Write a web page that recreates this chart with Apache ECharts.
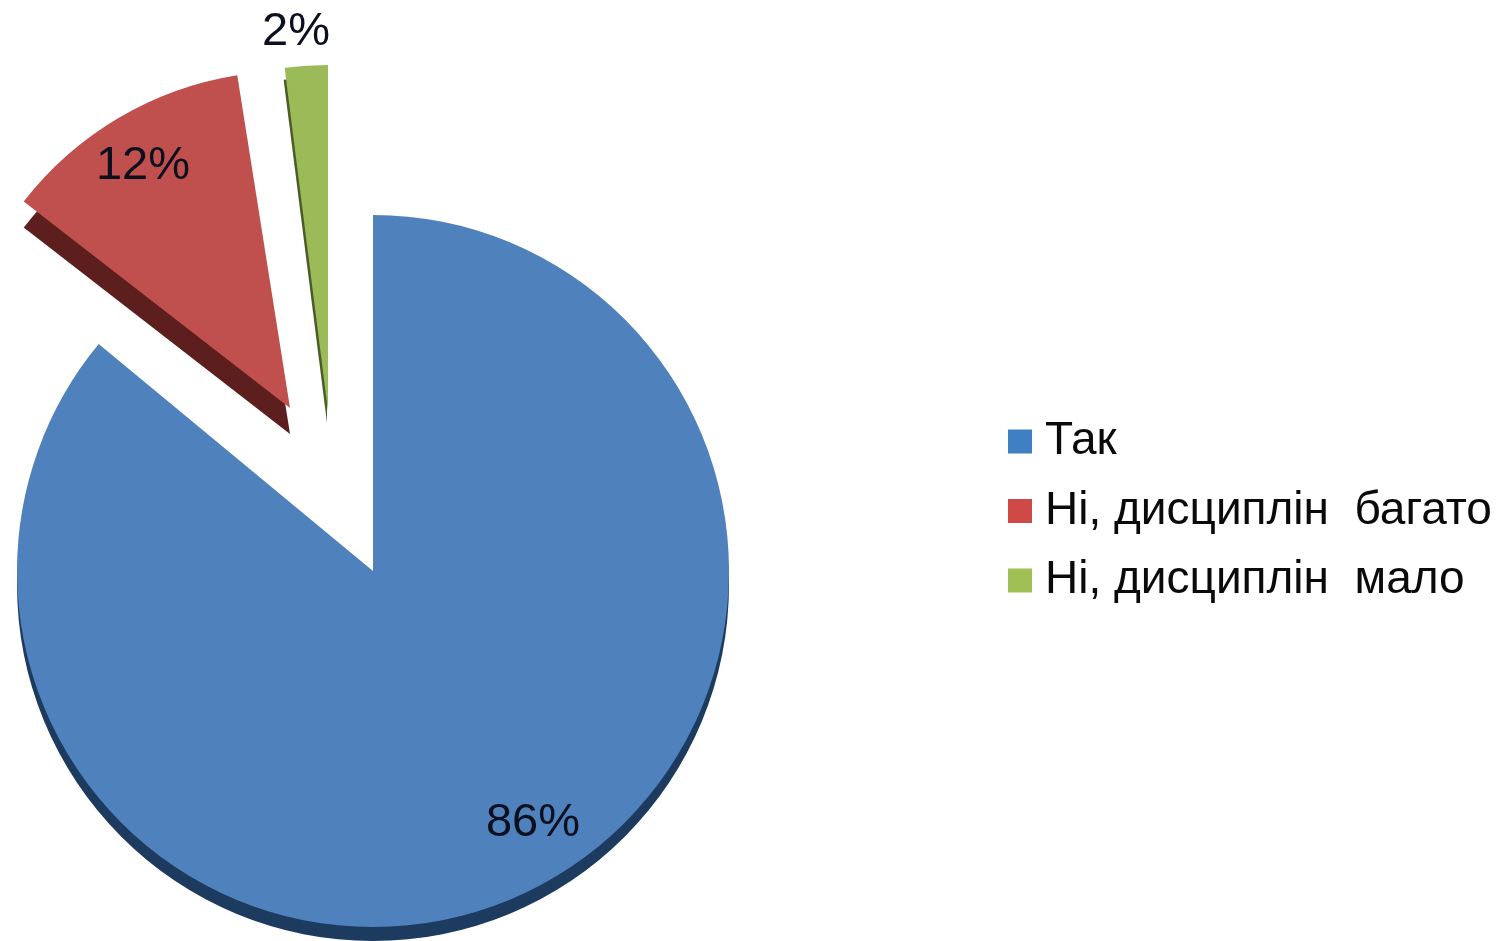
<!DOCTYPE html>
<html><head><meta charset="utf-8">
<style>html,body{margin:0;padding:0;background:#fff}#c{width:1499px;height:941px}</style>
<script src="https://cdn.jsdelivr.net/npm/echarts@6/dist/echarts.min.js"></script>
</head><body><div id="c"></div>
<script>
const categories = ['Так', 'Ні, дисциплін багато', 'Ні, дисциплін мало'];
const values = [86, 12, 2];
const colors = ['#4f81bd', '#c0504d', '#9bbb59'];
const sideColors = ['#1d3a5f', '#5c1f1d', '#4a5c28'];
const legendColors = ['#3f7fc4', '#cf4a47', '#a0bf55'];
const centers = [[373, 571], [290, 408], [328, 411]];
const radii = [356, 337, 346];
const depths = [14, 26, 12];
const depthsX = [0, 0, -1];
const rotate = [0, 1.8, 0];
const labelPos = [[533, 823], [143, 166], [296, 32]];

const total = values.reduce((a, b) => a + b, 0);
let cum = 0;
const series = categories.map((name, i) => {
  const start = 90 - cum / total * 360 + rotate[i];
  cum += values[i];
  return {
    type: 'pie', name, center: centers[i], radius: [0, radii[i]],
    startAngle: start, clockwise: true, animation: false, silent: true,
    avoidLabelOverlap: false, labelLine: {show: false},
    label: {show: true, position: 'inside', formatter: '{c}%', fontSize: 47,
      fontFamily: 'Liberation Sans', color: '#0b0f1e'},
    labelLayout: {x: labelPos[i][0], y: labelPos[i][1], align: 'center', verticalAlign: 'middle'},
    data: [
      {name, value: values[i], itemStyle: {color: colors[i], shadowColor: sideColors[i], shadowBlur: 0, shadowOffsetX: depthsX[i], shadowOffsetY: depths[i]}},
      {name: '', value: total - values[i], itemStyle: {color: 'rgba(0,0,0,0)'}, label: {show: false}}
    ]
  };
});

const chart = echarts.init(document.getElementById('c'), null, {renderer: 'canvas'});
chart.setOption({
  backgroundColor: '#fff',
  color: legendColors,
  legend: {
    orient: 'vertical', left: 1003, top: 405.5, itemWidth: 24, itemHeight: 24, itemGap: 7.5,
    icon: 'rect', selectedMode: false,
    data: categories.map((name, i) => ({name, itemStyle: {color: legendColors[i]}})),
    formatter: n => n.replace('дисциплін ', 'дисциплін\u00a0\u00a0'),
    textStyle: {fontSize: 46, lineHeight: 52, fontFamily: 'Liberation Sans', color: '#0a0a0a', padding: [10, 0, 0, 8]}
  },
  series
});
</script></body></html>
